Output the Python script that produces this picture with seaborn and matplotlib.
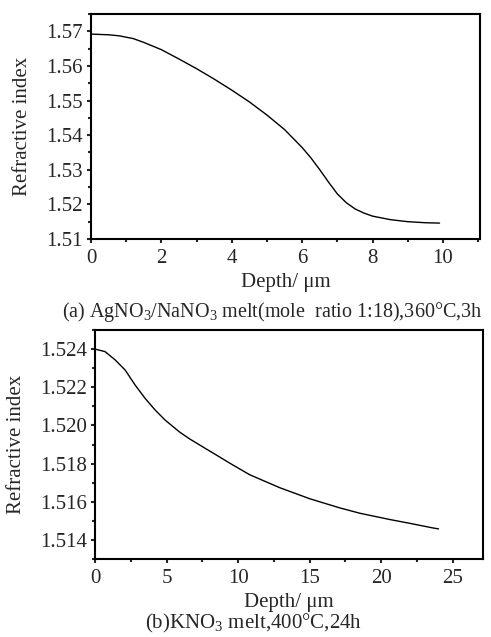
import numpy as np
import pandas as pd
import matplotlib
matplotlib.use("Agg")
import matplotlib.pyplot as plt
from matplotlib.ticker import MultipleLocator, FormatStrFormatter
import seaborn as sns

# (a) AgNO3/NaNO3 melt
depth_a = [0, 0.5, 0.8, 1.2, 1.5, 2, 2.5, 3, 3.5, 4, 4.5, 5, 5.5, 6, 6.25, 6.5, 6.75,
           7, 7.25, 7.5, 7.75, 8, 8.5, 9, 9.5, 9.9]
index_a = [1.5692, 1.5690, 1.5687, 1.5679, 1.5668, 1.5647, 1.5620, 1.5592, 1.5562,
           1.5530, 1.5496, 1.5458, 1.5416, 1.5364, 1.5334, 1.5300, 1.5264, 1.5230,
           1.5205, 1.5187, 1.5175, 1.5166, 1.5156, 1.5150, 1.5147, 1.5146]

# (b) KNO3 melt
depth_b = [0, 0.7, 1.4, 2.1, 2.8, 3.5, 4.2, 4.9, 5.9, 6.6, 7.7, 8.7, 9.4, 10.8,
           12.9, 15.0, 17.1, 18.5, 20.6, 22.0, 23.6, 24.0]
index_b = [1.5240, 1.52387, 1.52344, 1.52291, 1.52212, 1.52142, 1.52081, 1.52028,
           1.51966, 1.51930, 1.51880, 1.51835, 1.51803, 1.51742, 1.51674, 1.51616,
           1.51568, 1.51540, 1.51507, 1.51487, 1.51463, 1.51458]

df_a = pd.DataFrame({"depth": depth_a, "n": index_a})
df_b = pd.DataFrame({"depth": depth_b, "n": index_b})

sns.set_style("ticks")
plt.rcParams['font.family'] = ['Liberation Serif', 'DejaVu Serif']
plt.rcParams['mathtext.fontset'] = 'custom'
plt.rcParams['mathtext.rm'] = 'Liberation Serif'

fig = plt.figure(figsize=(4.91, 6.37), dpi=100)
ax1 = fig.add_axes([0.1853, 0.6248, 0.7923, 0.3532])
ax2 = fig.add_axes([0.1935, 0.1224, 0.790, 0.3595])

sns.lineplot(data=df_a, x="depth", y="n", ax=ax1, color="black", lw=1.0)
sns.lineplot(data=df_b, x="depth", y="n", ax=ax2, color="black", lw=1.0)

ax1.set_xlim(0, 11.05)
ax1.set_ylim(1.51, 1.575)
ax1.xaxis.set_major_locator(MultipleLocator(2))
ax1.xaxis.set_minor_locator(MultipleLocator(1))
ax1.yaxis.set_major_locator(MultipleLocator(0.01))
ax1.yaxis.set_minor_locator(MultipleLocator(0.005))
ax1.yaxis.set_major_formatter(FormatStrFormatter('%.2f'))

ax2.set_xlim(0, 27.1)
ax2.set_ylim(1.513, 1.525)
ax2.xaxis.set_major_locator(MultipleLocator(5))
ax2.xaxis.set_minor_locator(MultipleLocator(2.5))
ax2.yaxis.set_major_locator(MultipleLocator(0.002))
ax2.yaxis.set_minor_locator(MultipleLocator(0.001))
ax2.yaxis.set_major_formatter(FormatStrFormatter('%.3f'))

for ax in (ax1, ax2):
    for s in ax.spines.values():
        s.set_linewidth(1.5)
        s.set_color("black")
    ax.tick_params(which='both', direction='out', labelsize=15, width=1.5)
    ax.tick_params(axis='x', pad=4)
    ax.tick_params(axis='y', pad=3)
    ax.tick_params(which='major', length=3)
    ax.tick_params(which='minor', length=2)
    ax.set_xlabel("Depth/ μm", fontsize=15, labelpad=4)
    ax.set_ylabel("Refractive index", fontsize=15, labelpad=10)

fig.text(0.555, 1 - 312 / 637, r"(a) AgNO$_3$/NaNO$_3$ melt(mole  ratio 1:18),360°C,3h",
         ha='center', va='center', fontsize=14.5)
fig.text(0.517, 1 - 623 / 637, r"(b)KNO$_3$ melt,400°C,24h",
         ha='center', va='center', fontsize=15)

fig.savefig("out.png", dpi=100)
